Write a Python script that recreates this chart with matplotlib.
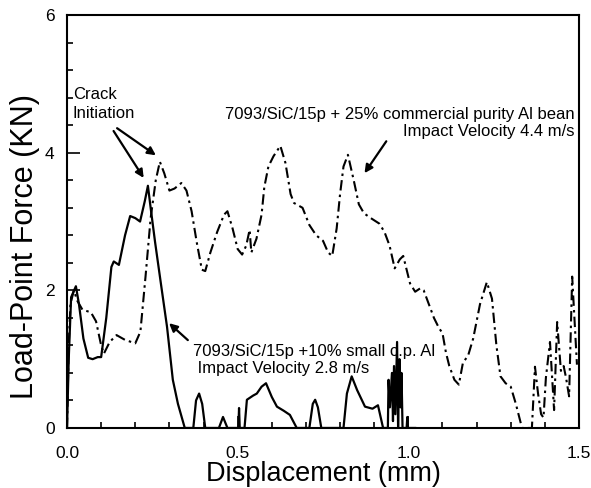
import matplotlib
matplotlib.use("Agg")
import matplotlib.pyplot as plt
from matplotlib.ticker import MultipleLocator

plt.rcParams['font.family'] = ['Liberation Sans', 'DejaVu Sans']

# 7093/SiC/15p + 25% commercial purity Al bean (dash-dot)
x_25 = [0.0, 0.005, 0.01, 0.02, 0.03, 0.045, 0.07, 0.085, 0.1, 0.108, 0.125, 0.145,
        0.17, 0.2, 0.215, 0.23, 0.245, 0.26, 0.272, 0.285, 0.3, 0.315, 0.335, 0.35,
        0.365, 0.38, 0.395, 0.405, 0.42, 0.44, 0.46, 0.47, 0.485, 0.5, 0.513, 0.525,
        0.535, 0.54, 0.555, 0.57, 0.578, 0.59, 0.605, 0.625, 0.64, 0.655, 0.665, 0.69,
        0.71, 0.73, 0.75, 0.765, 0.777, 0.79, 0.8, 0.81, 0.823, 0.84, 0.855, 0.87,
        0.89, 0.915, 0.93, 0.945, 0.96, 0.975, 0.985, 0.995, 1.005, 1.02, 1.035, 1.045,
        1.06, 1.075, 1.09, 1.1, 1.11, 1.12, 1.135, 1.148, 1.16, 1.175, 1.19, 1.21,
        1.23, 1.245, 1.258, 1.27, 1.285, 1.3, 1.315, 1.333, 1.362, 1.371, 1.38, 1.389,
        1.396, 1.403, 1.415, 1.427, 1.436, 1.447, 1.455, 1.462, 1.471, 1.48, 1.494]
f_25 = [0.0, 1.2, 1.8, 2.0, 1.85, 1.72, 1.68, 1.55, 1.2, 1.08, 1.25, 1.35,
        1.28, 1.23, 1.4, 2.2, 3.05, 3.6, 3.87, 3.7, 3.45, 3.48, 3.56, 3.45,
        3.15, 2.7, 2.3, 2.28, 2.55, 2.85, 3.1, 3.15, 2.9, 2.6, 2.52, 2.65,
        2.88, 2.55, 2.75, 3.1, 3.5, 3.8, 3.95, 4.1, 3.85, 3.4, 3.27, 3.2,
        2.95, 2.8, 2.72, 2.55, 2.5, 2.9, 3.4, 3.8, 3.97, 3.6, 3.25, 3.12,
        3.05, 2.97, 2.85, 2.65, 2.32, 2.45, 2.5, 2.3, 2.1, 1.98, 2.03, 2.0,
        1.8, 1.6, 1.45, 1.38, 1.1, 0.9, 0.7, 0.63, 0.95, 1.05, 1.3, 1.8,
        2.12, 1.88, 1.2, 0.75, 0.65, 0.6, 0.35, 0.0, 0.0, 0.89, 0.5, 0.2,
        0.15, 0.73, 1.25, 0.26, 1.54, 0.83, 0.9, 0.73, 0.46, 2.2, 0.92]

# 7093/SiC/15p +10% small c.p. Al (solid)
x_10 = [0.0, 0.005, 0.012, 0.026, 0.035, 0.048, 0.062, 0.075, 0.09, 0.1, 0.115, 0.13,
        0.137, 0.152, 0.17, 0.185, 0.2, 0.214, 0.228, 0.237, 0.245, 0.258, 0.275, 0.293,
        0.31, 0.325, 0.345, 0.37, 0.378, 0.387, 0.396, 0.405, 0.445, 0.457, 0.47, 0.502,
        0.504, 0.506, 0.52, 0.527, 0.545, 0.556, 0.57, 0.583, 0.6, 0.615, 0.635, 0.653,
        0.673, 0.71, 0.72, 0.727, 0.735, 0.745, 0.81, 0.82, 0.834, 0.85, 0.873, 0.895,
        0.911, 0.926, 0.94, 0.942, 0.946, 0.952, 0.955, 0.958, 0.962, 0.967, 0.97, 0.974,
        0.977, 0.98, 0.983, 0.995, 0.997, 0.999, 1.02]
f_10 = [0.0, 1.0, 1.9, 2.06, 1.8, 1.3, 1.02, 1.0, 1.03, 1.03, 1.6, 2.34,
        2.42, 2.37, 2.8, 3.08, 3.05, 3.0, 3.3, 3.52, 3.2, 2.7, 2.1, 1.47,
        0.7, 0.35, 0.0, 0.0, 0.4, 0.5, 0.35, 0.0, 0.0, 0.16, 0.0, 0.0,
        0.29, 0.0, 0.0, 0.41, 0.47, 0.5, 0.6, 0.65, 0.45, 0.31, 0.25, 0.19,
        0.0, 0.0, 0.35, 0.41, 0.3, 0.0, 0.0, 0.5, 0.75, 0.55, 0.31, 0.28,
        0.33, 0.0, 0.0, 0.7, 0.3, 0.8, 0.1, 0.9, 0.2, 1.25, 0.0, 1.0,
        0.3, 0.8, 0.0, 0.0, 0.16, 0.0, 0.0]

fig = plt.figure(figsize=(5.91, 4.88), dpi=100)
ax = fig.add_axes([0.1134, 0.123, 0.8663, 0.846])

ax.plot(x_25, f_25, color="black", lw=1.5, linestyle=(0, (5, 2, 1.2, 2)))
ax.plot(x_10, f_10, color="black", lw=1.6)

ax.set_xlim(0, 1.5)
ax.set_ylim(0, 6)
ax.xaxis.set_major_locator(MultipleLocator(0.5))
ax.xaxis.set_minor_locator(MultipleLocator(0.1))
ax.yaxis.set_major_locator(MultipleLocator(2))
ax.yaxis.set_minor_locator(MultipleLocator(0.4))
ax.xaxis.set_major_formatter(plt.FormatStrFormatter("%.1f"))
ax.tick_params(which="both", direction="in", labelsize=12.5, width=1.2)
ax.tick_params(which="major", length=9)
ax.tick_params(which="minor", length=4)
ax.tick_params(axis="x", pad=13)
ax.tick_params(axis="y", pad=9)
for s in ax.spines.values():
    s.set_linewidth(1.5)

ax.set_xlabel("Displacement (mm)", fontsize=19.5, labelpad=0)
ax.set_ylabel("Load-Point Force (KN)", fontsize=22)
ax.yaxis.set_label_coords(-0.052, 0.44)

# annotations
ax.text(0.017, 4.71, "Crack\nInitiation", fontsize=12, va="center", ha="left", linespacing=1.3)
ax.annotate("", xy=(0.229, 3.6), xytext=(0.132, 4.35),
            arrowprops=dict(arrowstyle="-|>", color="black", lw=1.6, mutation_scale=12))
ax.annotate("", xy=(0.267, 3.94), xytext=(0.14, 4.38),
            arrowprops=dict(arrowstyle="-|>", color="black", lw=1.6, mutation_scale=12))

ax.text(1.488, 4.43, "7093/SiC/15p + 25% commercial purity Al bean\nImpact Velocity 4.4 m/s",
        fontsize=12, ha="right", va="center", multialignment="right", linespacing=1.2)
ax.annotate("", xy=(0.867, 3.67), xytext=(0.94, 4.2),
            arrowprops=dict(arrowstyle="-|>", color="black", lw=1.6, mutation_scale=12))

ax.text(0.369, 0.99, "7093/SiC/15p +10% small c.p. Al\n Impact Velocity 2.8 m/s",
        fontsize=12, ha="left", va="center", linespacing=1.2)
ax.annotate("", xy=(0.293, 1.55), xytext=(0.36, 1.25),
            arrowprops=dict(arrowstyle="-|>", color="black", lw=1.6, mutation_scale=12))

fig.savefig("out.png", dpi=100)
